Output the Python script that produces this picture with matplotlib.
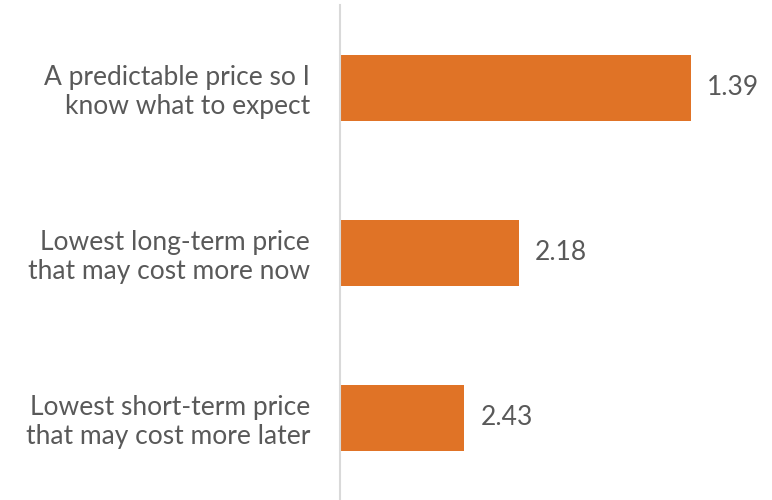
import matplotlib
matplotlib.use("Agg")
import matplotlib.pyplot as plt

# data
categories = [
    "A predictable price so I\nknow what to expect",
    "Lowest long-term price\nthat may cost more now",
    "Lowest short-term price\nthat may cost more later",
]
scores = [1.39, 2.18, 2.43]

BAR_COLOR = "#E07326"
TEXT_COLOR = "#595959"
AXIS_COLOR = "#D9D9D9"
BASE = 3.0  # bars grow from the reversed axis max

plt.rcParams["font.family"] = ["Lato", "DejaVu Sans"]

fig = plt.figure(figsize=(7.72, 5.00), dpi=100)
ax = fig.add_axes([340 / 772, 0.0, 432 / 772, 495 / 500])

ypos = list(range(len(categories)))
ax.barh(ypos, [s - BASE for s in scores], left=BASE, height=0.4,
        color=BAR_COLOR)

ax.set_xlim(BASE, 1.02)
ax.set_ylim(len(categories) - 0.5, -0.5)

for y, s in zip(ypos, scores):
    ax.annotate("{:.2f}".format(s), xy=(s, y), xytext=(11.5, 0),
                textcoords="offset points", ha="left", va="center",
                fontsize=19, color=TEXT_COLOR)

ax.set_yticks(ypos)
ax.set_yticklabels(categories, fontsize=19, color=TEXT_COLOR,
                   linespacing=1.2)
ax.tick_params(axis="y", length=0, pad=21.5)
ax.set_xticks([])

for side in ("top", "right", "bottom"):
    ax.spines[side].set_visible(False)
ax.spines["left"].set_color(AXIS_COLOR)
ax.spines["left"].set_linewidth(1.5)

fig.savefig("out.png", dpi=100)
